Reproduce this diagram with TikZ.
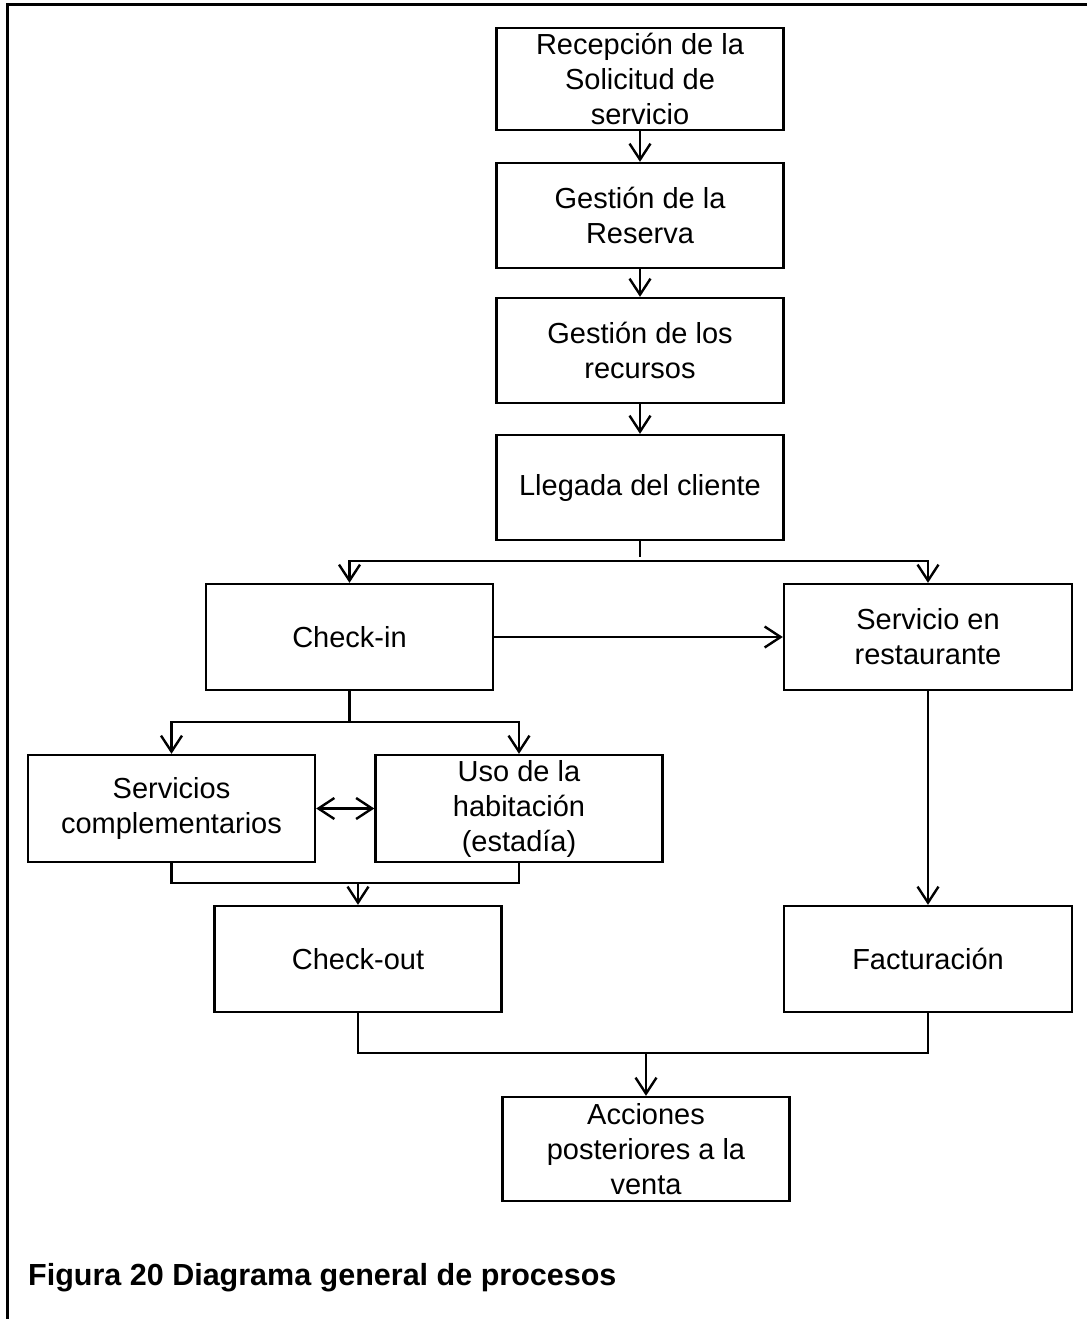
\documentclass[tikz,border=0pt]{standalone}
\usepackage{fontspec}
\setmainfont{Liberation Sans}
\usetikzlibrary{arrows.meta}
\begin{document}
\begin{tikzpicture}[x=1pt,y=-1pt,
 box/.style={draw,line width=2.4pt,minimum width=287pt,minimum height=105pt,inner sep=0pt,align=center,font=\fontsize{29}{35}\selectfont},
 conn/.style={line width=2.4pt},
 tipb/.tip={Straight Barb[length=16pt,width=21pt,line width=2.4pt]},
 arr/.style={conn,-tipb},
 darr/.style={conn,tipb-tipb}]
\useasboundingbox (0,0) rectangle (1087,1319);
\fill[white] (0,0) rectangle (1087,1319);
\draw[line width=3pt] (7,1319) -- (7,4.5) -- (1087,4.5);
\node[box,minimum height=102pt] (rec) at (640,79) {Recepción de la\\Solicitud de\\servicio};
\node[box] (res) at (640,215.5) {Gestión de la\\Reserva};
\node[box] (recur) at (640,350.5) {Gestión de los\\recursos};
\node[box] (lleg) at (640,487.5) {Llegada del cliente};
\node[box,minimum height=106pt] (chin) at (349.5,637) {Check-in};
\node[box,minimum width=288pt,minimum height=106pt] (serv) at (928,637) {Servicio en\\restaurante};
\node[box,minimum height=107pt] (comp) at (171.5,808.5) {Servicios\\complementarios};
\node[box,minimum height=107pt] (uso) at (519,808.5) {Uso de la\\habitación\\(estadía)};
\node[box,minimum height=106pt] (chout) at (358,959) {Check-out};
\node[box,minimum width=288pt,minimum height=106pt] (fact) at (928,959) {Facturación};
\node[box,minimum height=104pt] (acc) at (646,1149) {Acciones\\posteriores a la\\venta};
\node[anchor=base west,font=\bfseries\fontsize{30.5}{36}\selectfont,inner sep=0pt] (cap) at (28,1285) {Figura 20 Diagrama general de procesos};
% connectors
\draw[arr] (rec) -- (res);
\draw[arr] (res) -- (recur);
\draw[arr] (recur) -- (lleg);
\draw[conn] (lleg.south) -- ++(0,16) coordinate (tick);
\coordinate (spl) at (640,561);
\draw[arr] (spl) -| (chin.north);
\draw[arr] (spl) -| (serv.north);
\draw[arr] (chin.east) -- (serv.west);
\coordinate (spl2) at (349.5,722);
\draw[conn] (chin.south) -- (spl2);
\draw[arr] (spl2) -| (comp.north);
\draw[arr] (spl2) -| (uso.north);
\draw[darr] (comp.east) -- (uso.west);
\coordinate (j1) at (358,883);
\draw[conn] (comp.south) |- (j1) -| (uso.south);
\draw[arr] (j1) -- (chout.north);
\draw[arr] (serv.south) -- (fact.north);
\coordinate (j2) at (646,1053);
\draw[conn] (chout.south) |- (j2) -| (fact.south);
\draw[arr] (j2) -- (acc.north);
\end{tikzpicture}
\end{document}
